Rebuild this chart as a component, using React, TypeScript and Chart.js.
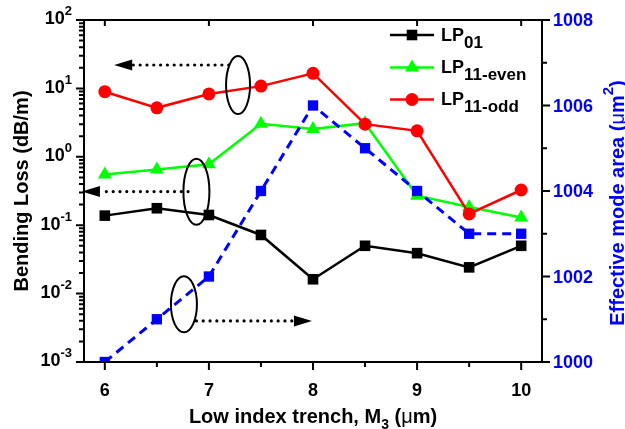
import React, { useEffect, useRef } from 'react';
import { Chart, registerables } from 'chart.js';

Chart.register(...registerables);

// ---------- data ----------
const xValues = [6, 6.5, 7, 7.5, 8, 8.5, 9, 9.5, 10];
const lp01 = [0.138, 0.177, 0.141, 0.072, 0.0162, 0.05, 0.039, 0.0242, 0.05];
const lp11Even = [0.55, 0.65, 0.78, 3.05, 2.55, 3.1, 0.27, 0.185, 0.13];
const lp11Odd = [8.95, 5.2, 8.3, 10.8, 16.6, 3.0, 2.4, 0.146, 0.327];
const effArea = [1000, 1001, 1002, 1004, 1006, 1005, 1004, 1003, 1003];

// ---------- ticks ----------
const xMajorTicks = [6, 7, 8, 9, 10];
const xMinorTicks = [6.5, 7.5, 8.5, 9.5];
const yExponents = [-3, -2, -1, 0, 1, 2];
const y2MajorTicks = [1000, 1002, 1004, 1006, 1008];
const y2MinorTicks = [1001, 1003, 1005, 1007];

// ---------- annotations (data units) ----------
const ellipseCenters = [
  { x: 7.28, y: 11.2, axis: 'y' },
  { x: 6.88, y: 0.309, axis: 'y' },
  { x: 6.76, y: 1001.35, axis: 'y2' },
];
const arrowLines = [
  { x0: 7.19, x1: 6.09, y: 22, axis: 'y' },
  { x0: 6.8, x1: 5.78, y: 0.31, axis: 'y' },
  { x0: 6.88, x1: 7.99, y: 1000.96, axis: 'y2' },
];
const ellipseRadii = [
  [12, 29],
  [13, 33],
  [13, 28],
];

const legendEntries = [
  { main: 'LP', sub: '01', color: '#000000', marker: 'rect' },
  { main: 'LP', sub: '11-even', color: '#00ff00', marker: 'triangle' },
  { main: 'LP', sub: '11-odd', color: '#ff0000', marker: 'circle' },
];

const FAM = '"Liberation Sans", Arial, Helvetica, sans-serif';
const font = (size: number, weight = 'bold') => `${weight} ${size}px ${FAM}`;
const BLUE = '#0000ff';

type Seg = { t: string; size: number; dy?: number; weight?: string };

function drawSegs(ctx: CanvasRenderingContext2D, segs: Seg[], x: number, y: number, align: 'left' | 'center' | 'right') {
  ctx.textAlign = 'left';
  ctx.textBaseline = 'alphabetic';
  const widths = segs.map((s) => {
    ctx.font = font(s.size, s.weight || 'bold');
    return ctx.measureText(s.t).width;
  });
  const total = widths.reduce((a, b) => a + b, 0);
  let cx = align === 'center' ? x - total / 2 : align === 'right' ? x - total : x;
  segs.forEach((s, i) => {
    ctx.font = font(s.size, s.weight || 'bold');
    ctx.fillText(s.t, cx, y + (s.dy || 0));
    cx += widths[i];
  });
}

function drawMarker(ctx: CanvasRenderingContext2D, kind: string, x: number, y: number, color: string) {
  ctx.fillStyle = color;
  ctx.beginPath();
  if (kind === 'rect') {
    const s = 5.3;
    ctx.rect(x - s, y - s, 2 * s, 2 * s);
  } else if (kind === 'triangle') {
    const r = 8;
    ctx.moveTo(x, y - r);
    ctx.lineTo(x + r * Math.sin((2 * Math.PI) / 3), y + r * 0.5);
    ctx.lineTo(x - r * Math.sin((2 * Math.PI) / 3), y + r * 0.5);
    ctx.closePath();
  } else {
    ctx.arc(x, y, 6.5, 0, Math.PI * 2);
  }
  ctx.fill();
}

const decorPlugin = {
  id: 'decor',
  afterDatasetsDraw(chart: any) {
    const ctx: CanvasRenderingContext2D = chart.ctx;
    const { left, right, top, bottom } = chart.chartArea;
    const xs = chart.scales.x;
    const ys = chart.scales.y;
    const y2 = chart.scales.y2;
    ctx.save();

    // frame
    ctx.strokeStyle = '#000';
    ctx.lineWidth = 2;
    ctx.setLineDash([]);
    ctx.strokeRect(left, top, right - left, bottom - top);

    // ticks
    ctx.beginPath();
    xMajorTicks.forEach((v) => {
      const px = xs.getPixelForValue(v);
      ctx.moveTo(px, bottom);
      ctx.lineTo(px, bottom + 8);
      ctx.moveTo(px, top);
      ctx.lineTo(px, top + 6);
    });
    xMinorTicks.forEach((v) => {
      const px = xs.getPixelForValue(v);
      ctx.moveTo(px, bottom);
      ctx.lineTo(px, bottom + 5);
    });
    yExponents.forEach((e) => {
      const py = ys.getPixelForValue(Math.pow(10, e));
      ctx.moveTo(left, py);
      ctx.lineTo(left - 8, py);
      if (e < yExponents[yExponents.length - 1]) {
        for (let m = 2; m <= 9; m++) {
          const pm = ys.getPixelForValue(m * Math.pow(10, e));
          ctx.moveTo(left, pm);
          ctx.lineTo(left - 5, pm);
        }
      }
    });
    y2MajorTicks.forEach((v) => {
      const py = y2.getPixelForValue(v);
      ctx.moveTo(right, py);
      ctx.lineTo(right + 8, py);
    });
    y2MinorTicks.forEach((v) => {
      const py = y2.getPixelForValue(v);
      ctx.moveTo(right, py);
      ctx.lineTo(right + 5, py);
    });
    ctx.stroke();

    // tick labels
    ctx.fillStyle = '#000';
    xMajorTicks.forEach((v) => {
      drawSegs(ctx, [{ t: String(v), size: 18 }], xs.getPixelForValue(v), bottom + 34, 'center');
    });
    yExponents.forEach((e) => {
      const py = ys.getPixelForValue(Math.pow(10, e));
      drawSegs(
        ctx,
        [
          { t: '10', size: 18 },
          { t: String(e), size: 13, dy: -9 },
        ],
        left - 12,
        py + 4.4,
        'right'
      );
    });
    ctx.fillStyle = BLUE;
    y2MajorTicks.forEach((v) => {
      drawSegs(ctx, [{ t: String(v), size: 18 }], right + 11, y2.getPixelForValue(v) + 6.4, 'left');
    });

    // axis titles
    ctx.fillStyle = '#000';
    drawSegs(
      ctx,
      [
        { t: 'Low index trench, M', size: 20 },
        { t: '3', size: 14, dy: 5.5 },
        { t: ' (', size: 20 },
        { t: 'μ', size: 20, weight: 'normal' },
        { t: 'm)', size: 20 },
      ],
      (left + right) / 2,
      bottom + 61,
      'center'
    );
    ctx.save();
    ctx.translate(21, (top + bottom) / 2);
    ctx.rotate(-Math.PI / 2);
    drawSegs(ctx, [{ t: 'Bending Loss (dB/m)', size: 20 }], 0, 7.2, 'center');
    ctx.restore();
    ctx.save();
    ctx.fillStyle = BLUE;
    ctx.translate(617, 203);
    ctx.rotate(-Math.PI / 2);
    drawSegs(
      ctx,
      [
        { t: 'Effective mode area (', size: 20 },
        { t: 'μ', size: 20, weight: 'normal' },
        { t: 'm', size: 20 },
        { t: '2', size: 15, dy: -11 },
        { t: ')', size: 20 },
      ],
      0,
      7.2,
      'center'
    );
    ctx.restore();

    // annotations: ellipses
    ctx.strokeStyle = '#000';
    ctx.lineWidth = 2;
    ellipseCenters.forEach((c, i) => {
      const sc = chart.scales[c.axis];
      ctx.beginPath();
      ctx.ellipse(xs.getPixelForValue(c.x), sc.getPixelForValue(c.y), ellipseRadii[i][0], ellipseRadii[i][1], 0, 0, Math.PI * 2);
      ctx.stroke();
    });
    // arrows
    arrowLines.forEach((a) => {
      const sc = chart.scales[a.axis];
      const py = sc.getPixelForValue(a.y);
      const p0 = xs.getPixelForValue(a.x0);
      const p1 = xs.getPixelForValue(a.x1);
      const dir = Math.sign(p1 - p0);
      const base = p1 - dir * 18;
      ctx.save();
      ctx.lineWidth = 3.2;
      ctx.lineCap = 'round';
      ctx.setLineDash([0.01, 6.8]);
      ctx.beginPath();
      ctx.moveTo(p0, py);
      ctx.lineTo(base, py);
      ctx.stroke();
      ctx.restore();
      ctx.fillStyle = '#000';
      ctx.beginPath();
      ctx.moveTo(p1, py);
      ctx.lineTo(base, py - 5.5);
      ctx.lineTo(base, py + 5.5);
      ctx.closePath();
      ctx.fill();
    });

    // legend
    const rows = [35, 67.5, 99.5];
    legendEntries.forEach((e, i) => {
      const ry = rows[i];
      ctx.strokeStyle = e.color;
      ctx.lineWidth = 2.5;
      ctx.setLineDash([]);
      ctx.beginPath();
      ctx.moveTo(390, ry);
      ctx.lineTo(434, ry);
      ctx.stroke();
      drawMarker(ctx, e.marker, 412, ry, e.color);
      ctx.fillStyle = '#000';
      drawSegs(
        ctx,
        [
          { t: e.main, size: 18 },
          { t: e.sub, size: 17, dy: 7 },
        ],
        441,
        ry + 5.5,
        'left'
      );
    });

    ctx.restore();
  },
};

export default function App() {
  const ref = useRef<HTMLCanvasElement | null>(null);
  useEffect(() => {
    document.body.style.margin = '0';
    const canvas = ref.current;
    if (!canvas) return;
    const toPts = (arr: number[]) => xValues.map((x, i) => ({ x, y: arr[i] }));
    const chart = new Chart(canvas, {
      type: 'line',
      data: {
        datasets: [
          {
            label: 'Effective mode area',
            data: toPts(effArea),
            yAxisID: 'y2',
            borderColor: BLUE,
            backgroundColor: BLUE,
            pointBackgroundColor: BLUE,
            pointBorderColor: BLUE,
            borderWidth: 3,
            borderDash: [9, 6],
            pointStyle: 'rect',
            pointRadius: 7.3,
            pointBorderWidth: 0,
            order: 0,
            clip: 0,
          },
          {
            label: 'LP11-odd',
            data: toPts(lp11Odd),
            yAxisID: 'y',
            borderColor: '#ff0000',
            backgroundColor: '#ff0000',
            pointBackgroundColor: '#ff0000',
            pointBorderColor: '#ff0000',
            borderWidth: 2.5,
            pointStyle: 'circle',
            pointRadius: 6.5,
            pointBorderWidth: 0,
            order: 1,
          },
          {
            label: 'LP11-even',
            data: toPts(lp11Even),
            yAxisID: 'y',
            borderColor: '#00ff00',
            backgroundColor: '#00ff00',
            pointBackgroundColor: '#00ff00',
            pointBorderColor: '#00ff00',
            borderWidth: 2.5,
            pointStyle: 'triangle',
            pointRadius: 8,
            pointBorderWidth: 0,
            order: 2,
          },
          {
            label: 'LP01',
            data: toPts(lp01),
            yAxisID: 'y',
            borderColor: '#000000',
            backgroundColor: '#000000',
            pointBackgroundColor: '#000000',
            pointBorderColor: '#000000',
            borderWidth: 2.5,
            pointStyle: 'rect',
            pointRadius: 7.5,
            pointBorderWidth: 0,
            order: 3,
          },
        ],
      },
      options: {
        animation: false,
        responsive: false,
        maintainAspectRatio: false,
        devicePixelRatio: 1,
        layout: { padding: { top: 20, left: 0, right: 0, bottom: 0 } },
        plugins: { legend: { display: false }, tooltip: { enabled: false } },
        elements: { line: { tension: 0 } },
        scales: {
          x: {
            type: 'linear',
            min: 5.8,
            max: 10.2,
            grid: { display: false },
            border: { display: false },
            ticks: { display: false },
            afterFit: (s: any) => {
              s.height = 67;
            },
          },
          y: {
            type: 'logarithmic',
            position: 'left',
            min: 0.001,
            max: 100,
            grid: { display: false },
            border: { display: false },
            ticks: { display: false },
            afterFit: (s: any) => {
              s.width = 84;
            },
          },
          y2: {
            type: 'linear',
            position: 'right',
            min: 1000,
            max: 1008,
            grid: { display: false },
            border: { display: false },
            ticks: { display: false },
            afterFit: (s: any) => {
              s.width = 83;
            },
          },
        },
      } as any,
      plugins: [decorPlugin],
    });
    return () => chart.destroy();
  }, []);
  return <canvas ref={ref} width={625} height={429} style={{ display: 'block', width: 625, height: 429 }} />;
}
